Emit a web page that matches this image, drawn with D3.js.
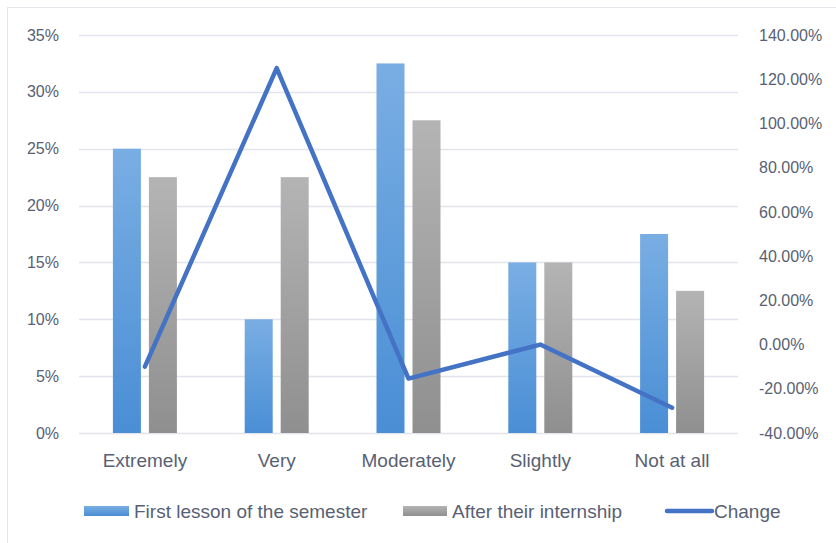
<html>
<head>
<meta charset="utf-8">
<script src="https://cdn.jsdelivr.net/npm/d3@7"></script>
<style>
body { margin: 0; background: #fff; }
.tick-text { font: 16px "Liberation Sans", Arial, sans-serif; fill: #586174; }
.cat-text { font: 19px "Liberation Sans", Arial, sans-serif; fill: #586174; }
.legend-text { font: 19px "Liberation Sans", Arial, sans-serif; fill: #586174; }
</style>
</head>
<body>
<div id="chart"></div>
<script>
var categories = ["Extremely", "Very", "Moderately", "Slightly", "Not at all"];
var firstLesson = [0.25, 0.10, 0.325, 0.15, 0.175];
var afterInternship = [0.225, 0.225, 0.275, 0.15, 0.125];
var change = [-0.10, 1.25, -0.1538, 0.0, -0.2857];
var leftTicks = [0, 0.05, 0.10, 0.15, 0.20, 0.25, 0.30, 0.35];
var rightTicks = [-0.4, -0.2, 0, 0.2, 0.4, 0.6, 0.8, 1.0, 1.2, 1.4];
var seriesNames = ["First lesson of the semester", "After their internship", "Change"];

var width = 836, height = 543;
var plot = {left: 79, right: 738, top: 35, bottom: 433};

var svg = d3.select("#chart").append("svg")
	.attr("width", width)
	.attr("height", height);

// gradients for the bars
var defs = svg.append("defs");
var gBlue = defs.append("linearGradient").attr("id", "gBlue").attr("x1", 0).attr("y1", 0).attr("x2", 0).attr("y2", 1);
gBlue.append("stop").attr("offset", "0%").attr("stop-color", "#79aee3");
gBlue.append("stop").attr("offset", "100%").attr("stop-color", "#4a8ed5");
var gGray = defs.append("linearGradient").attr("id", "gGray").attr("x1", 0).attr("y1", 0).attr("x2", 0).attr("y2", 1);
gGray.append("stop").attr("offset", "0%").attr("stop-color", "#b4b4b4");
gGray.append("stop").attr("offset", "100%").attr("stop-color", "#8f8f8f");

// outer frame
svg.append("rect")
	.attr("x", 7.5).attr("y", 7.5)
	.attr("width", 840).attr("height", 560)
	.attr("fill", "none")
	.attr("stroke", "#e3e6ea");

var x = d3.scaleBand().domain(categories).range([plot.left, plot.right]);
var yL = d3.scaleLinear().domain([0, 0.35]).range([plot.bottom, plot.top]);
var yR = d3.scaleLinear().domain([-0.4, 1.4]).range([plot.bottom, plot.top]);

// gridlines
svg.append("g").selectAll("line")
	.data(leftTicks)
	.enter().append("line")
	.attr("x1", plot.left).attr("x2", plot.right)
	.attr("y1", function(d) { return Math.round(yL(d)) + 0.5; })
	.attr("y2", function(d) { return Math.round(yL(d)) + 0.5; })
	.attr("stroke", "#e1e4ea")
	.attr("stroke-width", 1.3);

// left axis
var leftAxis = svg.append("g")
	.attr("transform", "translate(" + plot.left + ",0)")
	.call(d3.axisLeft(yL).tickValues(leftTicks).tickFormat(d3.format(".0%")).tickSize(0).tickPadding(20));
leftAxis.select(".domain").remove();
leftAxis.selectAll("text").attr("class", "tick-text").attr("font-size", null).attr("font-family", null);

// right axis (hyphen minus like the original)
var pct2 = d3.format(".2%");
var rightAxis = svg.append("g")
	.attr("transform", "translate(" + plot.right + ",0)")
	.call(d3.axisRight(yR).tickValues(rightTicks)
		.tickFormat(function(d) { return pct2(d).replace("\u2212", "-"); })
		.tickSize(0).tickPadding(21));
rightAxis.select(".domain").remove();
rightAxis.selectAll("text").attr("class", "tick-text").attr("font-size", null).attr("font-family", null);

// category labels
var bottomAxis = svg.append("g")
	.attr("transform", "translate(0," + plot.bottom + ")")
	.call(d3.axisBottom(x).tickSize(0).tickPadding(21));
bottomAxis.select(".domain").remove();
bottomAxis.selectAll("text").attr("class", "cat-text").attr("font-size", null).attr("font-family", null);

// bars
var barW = 28, gap = 8;
var bars = svg.append("g");
bars.selectAll("rect.first")
	.data(firstLesson)
	.enter().append("rect")
	.attr("class", "first")
	.attr("x", function(d, i) { return x(categories[i]) + x.bandwidth() / 2 - gap / 2 - barW; })
	.attr("y", function(d) { return yL(d); })
	.attr("width", barW)
	.attr("height", function(d) { return plot.bottom - yL(d); })
	.attr("fill", "url(#gBlue)");
bars.selectAll("rect.after")
	.data(afterInternship)
	.enter().append("rect")
	.attr("class", "after")
	.attr("x", function(d, i) { return x(categories[i]) + x.bandwidth() / 2 + gap / 2; })
	.attr("y", function(d) { return yL(d); })
	.attr("width", barW)
	.attr("height", function(d) { return plot.bottom - yL(d); })
	.attr("fill", "url(#gGray)");

// change line
var line = d3.line()
	.x(function(d, i) { return x(categories[i]) + x.bandwidth() / 2; })
	.y(function(d) { return yR(d); });
svg.append("path")
	.datum(change)
	.attr("d", line)
	.attr("fill", "none")
	.attr("stroke", "#4472c4")
	.attr("stroke-width", 4.5)
	.attr("stroke-linecap", "round")
	.attr("stroke-linejoin", "round");

// legend
var legY = 511;
var legend = svg.append("g");
legend.append("rect").attr("x", 84).attr("y", legY - 5).attr("width", 45).attr("height", 10).attr("fill", "url(#gBlue)");
legend.append("text").attr("class", "legend-text").attr("x", 134).attr("y", legY).attr("dy", "0.35em").text(seriesNames[0]);
legend.append("rect").attr("x", 403).attr("y", legY - 5).attr("width", 44).attr("height", 10).attr("fill", "url(#gGray)");
legend.append("text").attr("class", "legend-text").attr("x", 452).attr("y", legY).attr("dy", "0.35em").text(seriesNames[1]);
legend.append("line").attr("x1", 667).attr("x2", 712).attr("y1", legY).attr("y2", legY)
	.attr("stroke", "#4472c4").attr("stroke-width", 4.5).attr("stroke-linecap", "round");
legend.append("text").attr("class", "legend-text").attr("x", 714).attr("y", legY).attr("dy", "0.35em").text(seriesNames[2]);
</script>
</body>
</html>
